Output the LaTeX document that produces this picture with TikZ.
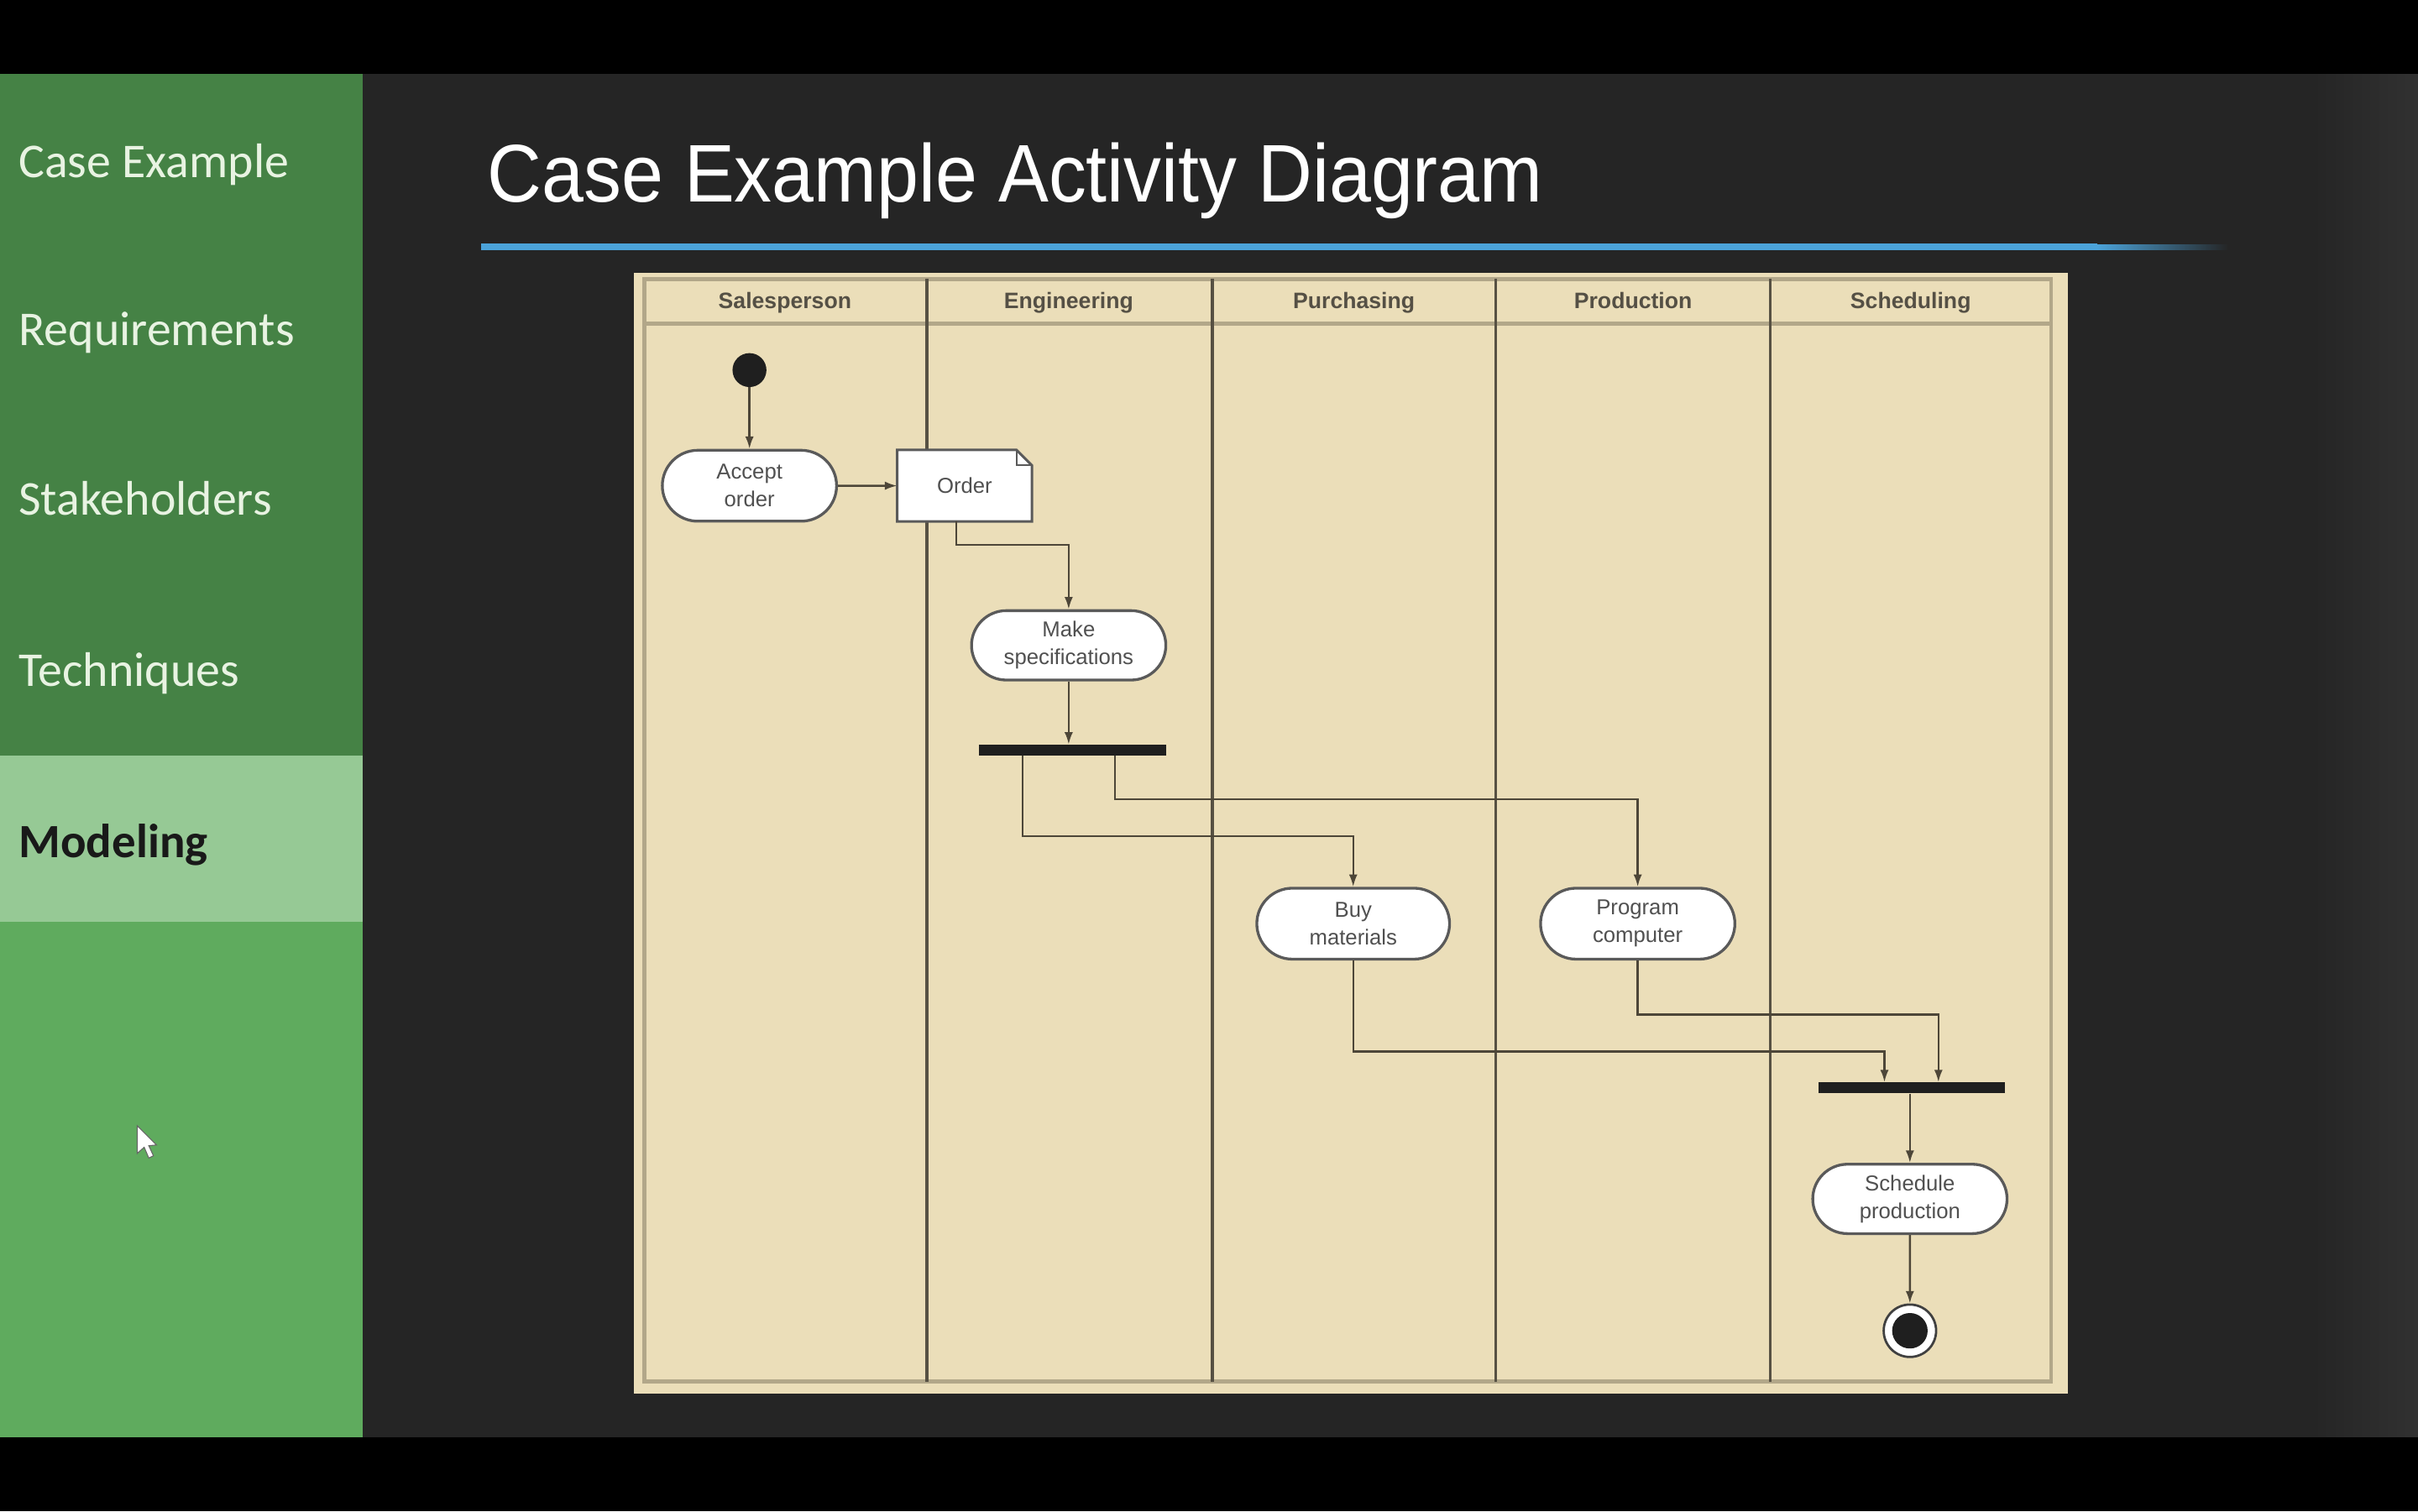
\documentclass[tikz,border=0pt]{standalone}
\usepackage{fontspec}
\setmainfont{Liberation Sans}
\newfontfamily\sidefont{Carlito}
\newfontfamily\titlefont{Liberation Sans}
\usetikzlibrary{shapes.misc,arrows.meta}
\definecolor{board}{HTML}{252525}
\definecolor{boardedge}{HTML}{313131}
\definecolor{sideA}{HTML}{458245}
\definecolor{sideB}{HTML}{96C995}
\definecolor{sideC}{HTML}{5FAB5E}
\definecolor{sidetext}{HTML}{E8F3E2}
\definecolor{paper}{HTML}{EBDEB9}
\definecolor{frameline}{HTML}{B2A789}
\definecolor{laneline}{HTML}{575143}
\definecolor{flowcol}{HTML}{4D4638}
\definecolor{nodeline}{HTML}{5A5A5A}
\definecolor{nodetext}{HTML}{505050}
\definecolor{headtext}{HTML}{555045}
\definecolor{bluebar}{HTML}{4BA3DA}
\tikzset{
  sidetxt/.style={anchor=base west, inner sep=0pt, text=sidetext,
    font=\sidefont\fontsize{31.5}{36}\selectfont},
  lanehead/.style={anchor=base, inner sep=0pt, text=headtext,
    font=\bfseries\fontsize{14.5}{17}\selectfont},
  activity/.style={rounded rectangle, draw=nodeline, line width=1.8pt, fill=white,
    minimum height=46pt, inner sep=0pt, align=center, text=nodetext,
    font=\fontsize{14}{18}\selectfont},
  bar/.style={rectangle, fill=black!88, minimum width=121pt, minimum height=7pt, inner sep=0pt},
  flow/.style={draw=flowcol, line width=1.3pt, -{Latex[length=8pt,width=5.5pt]}},
  lane/.style={draw=laneline, line width=2pt},
}
\begin{document}
\begin{tikzpicture}[x=1pt,y=-1pt]
\useasboundingbox (0,0) rectangle (1568,980);
% background bands
\fill[black] (0,0) rectangle (1568,980);
\fill[board] (235,48) rectangle (1568,932);
\shade[left color=board, right color=boardedge] (1500,48) rectangle (1568,932);
% sidebar
\fill[sideA] (0,48) rectangle (235,490);
\fill[sideB] (0,490) rectangle (235,598);
\fill[sideC] (0,598) rectangle (235,932);
\node[sidetxt] (m1) at (12,115) {Case Example};
\node[sidetxt] (m2) at (12,224) {Requirements};
\node[sidetxt] (m3) at (12,334) {Stakeholders};
\node[sidetxt] (m4) at (12,445) {Techniques};
\node[sidetxt, text=black!90, font=\sidefont\bfseries\fontsize{31}{36}\selectfont] (m5) at (12,556) {Modeling};
% cursor
\filldraw[fill=white, draw=black!60, line width=0.6pt]
  (89,730) -- (89,748) -- (93.5,744) -- (96.5,751) -- (99.5,749.5) -- (96.5,743) -- (101.5,742.5) -- cycle;
% title
\node[anchor=base west, inner sep=0pt, text=white, font=\titlefont\fontsize{53}{60}\selectfont]
  (title) at (316,131) {\scalebox{0.922}[1]{Case Example Activity Diagram}};
\fill[bluebar] (312,158) rectangle (1360,162.5);
\shade[left color=bluebar, right color=board] (1360,158.5) rectangle (1445,162);
% paper and swimlanes
\fill[paper] (411,177) rectangle (1341,904);
\draw[frameline, line width=2.5pt] (418,181) rectangle (1330,896);
\draw[frameline, line width=2.5pt] (418,210) -- (1330,210);
\draw[lane] (601,181) -- (601,896);
\draw[lane] (786,181) -- (786,896);
\draw[lane] (970,181) -- (970,896);
\draw[lane] (1148,181) -- (1148,896);
\node[lanehead] (h1) at (509,200) {Salesperson};
\node[lanehead] (h2) at (693,200) {Engineering};
\node[lanehead] (h3) at (878,200) {Purchasing};
\node[lanehead] (h4) at (1059,200) {Production};
\node[lanehead] (h5) at (1239,200) {Scheduling};
% activity nodes
\node[circle, fill=black!88, minimum size=22pt, inner sep=0pt] (start) at (486,240) {};
\node[activity, minimum width=113pt] (accept) at (486,315) {Accept\\order};
\node[inner sep=0pt, minimum width=87pt, minimum height=46pt] (order) at (625.5,315) {};
\filldraw[fill=white, draw=nodeline, line width=1.6pt]
  (order.north west) -- ([xshift=-10pt]order.north east) -- ([yshift=-10pt]order.north east)
  -- (order.south east) -- (order.south west) -- cycle;
\draw[nodeline, line width=1.2pt] ([xshift=-10pt]order.north east) -- ([xshift=-10pt,yshift=-10pt]order.north east) -- ([yshift=-10pt]order.north east);
\node[inner sep=0pt, text=nodetext, font=\fontsize{14}{18}\selectfont] (ordertext) at (order.center) {Order};
\node[activity, minimum width=126pt, minimum height=45pt] (make) at (693,418.5) {Make\\specifications};
\node[bar] (fork) at (695.5,486.5) {};
\node[activity, minimum width=125pt] (buy) at (877.5,599) {Buy\\materials};
\node[activity, minimum width=126pt] (prog) at (1062,599) {Program\\computer};
\node[bar] (join) at (1239.5,705.5) {};
\node[activity, minimum width=126pt, minimum height=45pt] (sched) at (1238.5,777.5) {Schedule\\production};
\node[circle, draw=black!75, line width=1.5pt, fill=white, minimum size=34pt, inner sep=0pt] (finish) at (1238.5,863) {};
\node[circle, fill=black!88, minimum size=23pt, inner sep=0pt] (finishdot) at (finish.center) {};
% flows
\draw[flow] (start) -- (accept);
\draw[flow] (accept) -- (order);
\draw[flow] ([xshift=-5.5pt]order.south) -- ++(0,15) -| (make.north);
\draw[flow] (make.south) -- (make.south |- fork.north);
\draw[flow] ([xshift=-32.5pt]fork.south) -- ++(0,52) -| (buy.north);
\draw[flow] ([xshift=27.5pt]fork.south) -- ++(0,28) -| (prog.north);
\draw[flow] (buy.south) -- ++(0,59) -| ([xshift=-17.5pt]join.north);
\draw[flow] (prog.south) -- ++(0,35) -| ([xshift=17.5pt]join.north);
\draw[flow] (sched.north |- join.south) -- (sched.north);
\draw[flow] (sched) -- (finish);
\end{tikzpicture}
\end{document}
